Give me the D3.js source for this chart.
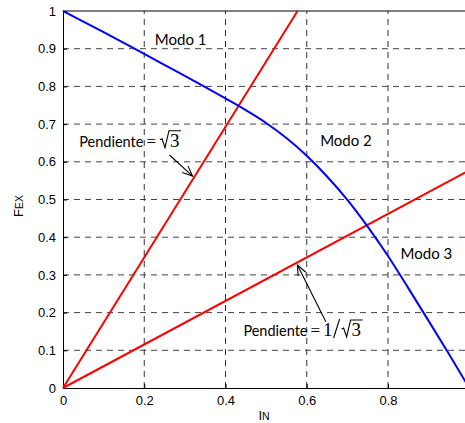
<!DOCTYPE html>
<html>
<head>
<meta charset="utf-8">
<script src="https://cdn.jsdelivr.net/npm/d3@7"></script>
<style>
  body { margin: 0; background: #fff; }
  svg { display: block; }
</style>
</head>
<body>
<svg id="chart" width="465" height="423"></svg>
<script>
// Operating limit curve (per-unit current vs excitation force)
const limitI   = [0, 0.1, 0.2, 0.3, 0.4, 0.45, 0.5, 0.55, 0.6, 0.65, 0.7, 0.75, 0.8, 0.85, 0.9, 0.95, 1.0];
const limitFex = [1.0, 0.944, 0.886, 0.828, 0.768, 0.737, 0.703, 0.663, 0.616, 0.561, 0.499, 0.428, 0.350, 0.265, 0.178, 0.090, 0.0];

// Straight lines through the origin, slopes √3 and 1/√3
const slopes = [Math.sqrt(3), 1 / Math.sqrt(3)];

const xTicks = [0, 0.2, 0.4, 0.6, 0.8];
const yTicks = [0, 0.1, 0.2, 0.3, 0.4, 0.5, 0.6, 0.7, 0.8, 0.9, 1];

const modeLabels = ["Modo 1", "Modo 2", "Modo 3"];
const modeX = [0.226, 0.633, 0.831];
const modeY = [0.91, 0.642, 0.341];

const svg = d3.select("#chart");
const x = d3.scaleLinear().domain([0, 1]).range([63, 469.25]);
const y = d3.scaleLinear().domain([0, 1]).range([388, 11]);

const sansTick = "'Liberation Sans', Arial, sans-serif";
const sansText = "Lato, 'Open Sans', sans-serif";
const serif = "'Liberation Serif', 'Times New Roman', serif";

// grid
const grid = svg.append("g");
grid.selectAll("line.gx").data(xTicks.filter(d => d > 0)).join("line")
  .attr("x1", d => x(d)).attr("x2", d => x(d))
  .attr("y1", y(0)).attr("y2", y(1))
  .attr("stroke", "#333").attr("stroke-width", 1).attr("stroke-dasharray", "6,5");
grid.selectAll("line.gy").data(yTicks.filter(d => d > 0 && d < 1)).join("line")
  .attr("x1", x(0)).attr("x2", x(1))
  .attr("y1", d => y(d)).attr("y2", d => y(d))
  .attr("stroke", "#444").attr("stroke-width", 1).attr("stroke-dasharray", "6,5");

// axes
const xAxis = d3.axisBottom(x).tickValues(xTicks).tickFormat(d3.format("")).tickSizeInner(-4).tickSizeOuter(0).tickPadding(8);
const yAxis = d3.axisLeft(y).tickValues(yTicks).tickFormat(d3.format("")).tickSizeInner(-4).tickSizeOuter(0).tickPadding(7);
const gx = svg.append("g").attr("transform", `translate(0,${y(0)})`).call(xAxis);
const gy = svg.append("g").attr("transform", `translate(${x(0)},0)`).call(yAxis);
[gx, gy].forEach(g => {
  g.select(".domain").attr("stroke", "#000");
  g.selectAll(".tick line").attr("stroke", "#000");
  g.selectAll("text").attr("font-family", sansTick).attr("font-size", 13).attr("fill", "#000");
});
svg.append("line").attr("x1", x(0)).attr("x2", x(1)).attr("y1", y(1)).attr("y2", y(1)).attr("stroke", "#000");

// red lines
svg.append("g").selectAll("line").data(slopes).join("line")
  .attr("x1", x(0)).attr("y1", y(0))
  .attr("x2", d => x(Math.min(1, 1 / d))).attr("y2", d => y(Math.min(1, d)))
  .attr("stroke", "#ff0000").attr("stroke-width", 2);

// blue limit curve
const pts = limitI.map((v, i) => [v, limitFex[i]]);
svg.append("path").datum(pts)
  .attr("d", d3.line().x(d => x(d[0])).y(d => y(d[1])).curve(d3.curveMonotoneX))
  .attr("fill", "none").attr("stroke", "#0000ff").attr("stroke-width", 2);

// mode labels
svg.append("g").selectAll("text").data(modeLabels).join("text")
  .attr("x", (d, i) => x(modeX[i])).attr("y", (d, i) => y(modeY[i]))
  .attr("font-family", sansText).attr("font-size", 15).attr("fill", "#000")
  .text(d => d);

// slope annotations: "Pendiente = √3" and "Pendiente = 1/√3"
function slopeLabel(px, py, inverse) {
  const g = svg.append("g");
  const t = g.append("text").attr("x", px).attr("y", py)
    .attr("font-family", sansText).attr("font-size", 14.5).attr("fill", "#000").text("Pendiente");
  let cx = px + t.node().getComputedTextLength() + 3;
  const eq = g.append("text").attr("x", cx).attr("y", py)
    .attr("font-family", serif).attr("font-size", 17).text("=");
  cx += eq.node().getComputedTextLength() + 3;
  if (inverse) {
    const one = g.append("text").attr("x", cx).attr("y", py)
      .attr("font-family", serif).attr("font-size", 19).text("1");
    cx += one.node().getComputedTextLength();
    // slash
    g.append("line").attr("x1", cx + 1).attr("y1", py + 2).attr("x2", cx + 7).attr("y2", py - 17)
      .attr("stroke", "#000").attr("stroke-width", 1.1);
    cx += 8;
  }
  // radical sign
  const rx = cx + 1;
  const top = py - 16;
  g.append("path")
    .attr("d", `M${rx},${py - 7} L${rx + 2},${py - 8} L${rx + 5},${py + 1} L${rx + 9},${top} L${rx + 21},${top}`)
    .attr("fill", "none").attr("stroke", "#000").attr("stroke-width", 1.1);
  g.append("text").attr("x", rx + 10).attr("y", py)
    .attr("font-family", serif).attr("font-size", 19).text("3");
}
slopeLabel(x(0.04), y(0.64), false);
slopeLabel(x(0.444), y(0.138), true);

// arrows pointing at the red lines
const arrows = [
  { from: [0.262, 0.618], to: [0.319, 0.562] },
  { from: [0.647, 0.176], to: [0.577, 0.326] }
];
arrows.forEach(a => {
  const x1 = x(a.from[0]), y1 = y(a.from[1]), x2 = x(a.to[0]), y2 = y(a.to[1]);
  const ang = Math.atan2(y2 - y1, x2 - x1);
  const L = 11, w = 0.4;
  svg.append("line").attr("x1", x1).attr("y1", y1).attr("x2", x2).attr("y2", y2)
    .attr("stroke", "#000").attr("stroke-width", 1.1);
  svg.append("path")
    .attr("d", `M${x2 - L * Math.cos(ang - w)},${y2 - L * Math.sin(ang - w)} L${x2},${y2} L${x2 - L * Math.cos(ang + w)},${y2 - L * Math.sin(ang + w)}`)
    .attr("fill", "none").attr("stroke", "#000").attr("stroke-width", 1.1);
});

// axis titles
const xt = svg.append("text").attr("x", 264).attr("y", 420).attr("text-anchor", "middle")
  .attr("font-family", sansTick).attr("fill", "#000");
xt.append("tspan").attr("font-size", 13).text("I");
xt.append("tspan").attr("font-size", 10.5).text("N");

const yt = svg.append("text").attr("transform", "translate(23,206) rotate(-90)").attr("text-anchor", "middle")
  .attr("font-family", sansTick).attr("fill", "#000");
yt.append("tspan").attr("font-size", 13).text("F");
yt.append("tspan").attr("font-size", 10.5).text("EX");
</script>
</body>
</html>
